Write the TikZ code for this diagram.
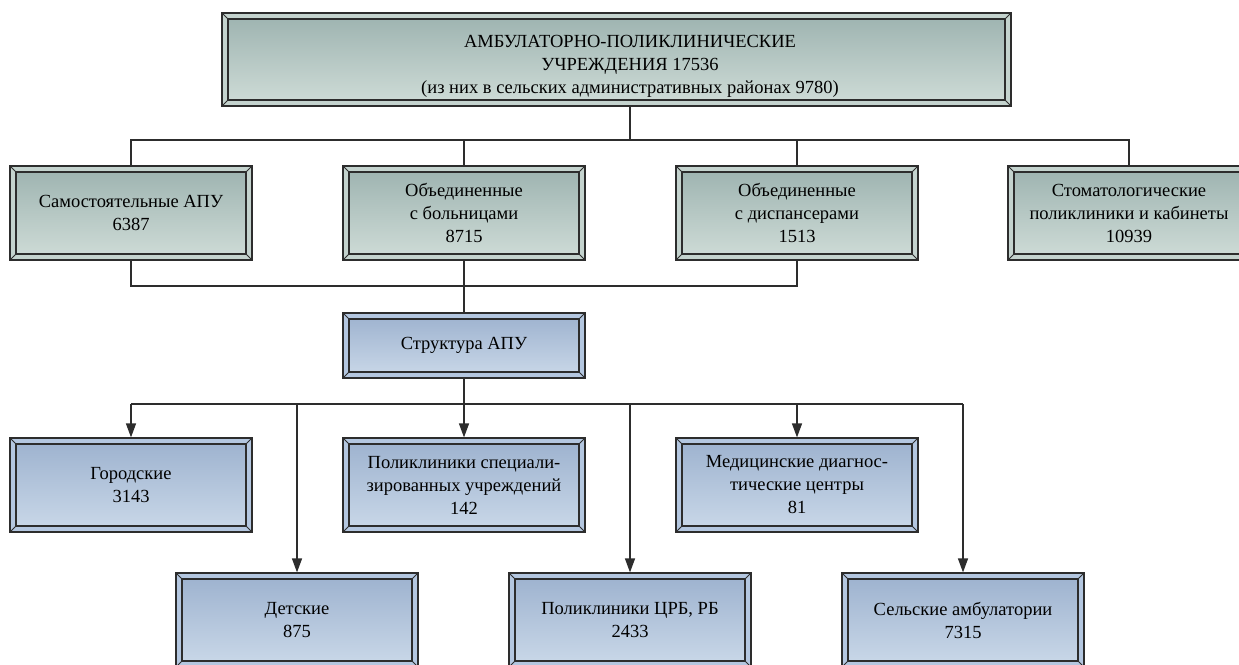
\documentclass[tikz,border=0pt]{standalone}
\usepackage{fontspec}
\setmainfont{Liberation Serif}
\usetikzlibrary{arrows.meta,positioning}
\definecolor{frameline}{RGB}{45,45,45}
\definecolor{greentop}{RGB}{156,178,175}
\definecolor{greenbot}{RGB}{208,221,216}
\definecolor{greenrim}{RGB}{196,211,206}
\definecolor{bluetop}{RGB}{156,177,206}
\definecolor{bluebot}{RGB}{203,217,233}
\definecolor{bluerim}{RGB}{180,199,224}
\tikzset{
  rimbox/.style n args={3}{draw=frameline, line width=1.2pt, fill=#3,
    minimum width=242pt, minimum height=94pt, inner sep=0pt, align=center,
    font=\fontsize{18.5}{23}\selectfont,
    path picture={
      \shade[top color=#1, bottom color=#2, draw=frameline, line width=1.2pt]
        ([shift={(6pt,6pt)}]path picture bounding box.south west)
        rectangle ([shift={(-6pt,-6pt)}]path picture bounding box.north east);
      \draw[frameline, line width=0.8pt]
        (path picture bounding box.south west) -- ++(6pt,6pt)
        (path picture bounding box.north west) -- ++(6pt,-6pt)
        (path picture bounding box.north east) -- ++(-6pt,-6pt)
        (path picture bounding box.south east) -- ++(-6pt,6pt);
    }},
  greenbox/.style={rimbox={greentop}{greenbot}{greenrim}},
  bluebox/.style={rimbox={bluetop}{bluebot}{bluerim}},
  link/.style={draw=frameline, line width=1.3pt},
  arr/.style={link, -{Triangle[length=14pt,width=10pt]}}
}
\begin{document}
\begin{tikzpicture}[x=1pt, y=-1pt]
  \clip (0,0) rectangle (1239,664);
  % top level
  \node[greenbox, minimum width=789pt, minimum height=93pt] (apu) at (616.5,59.5) {};
  \node[align=center, font=\fontsize{18.5}{23}\selectfont] (apuText) at (630,66)
    {АМБУЛАТОРНО-ПОЛИКЛИНИЧЕСКИЕ\\УЧРЕЖДЕНИЯ 17536\\(из них в сельских административных районах 9780)};
  % first row
  \node[greenbox] (self) at (131,213) {Самостоятельные АПУ\\6387};
  \node[greenbox] (hosp) at (464,213) {Объединенные\\с больницами\\8715};
  \node[greenbox] (disp) at (797,213) {Объединенные\\с диспансерами\\1513};
  \node[greenbox] (dent) at (1129,213) {Стоматологические\\поликлиники и кабинеты\\10939};
  % structure
  \node[bluebox, minimum height=65pt] (struct) at (464,345.5) {Структура АПУ};
  \node[bluebox] (city) at (131,485) {Городские\\3143};
  \node[bluebox] (spec) at (464,485) {Поликлиники специали-\\зированных учреждений\\142};
  \node[bluebox] (diag) at (797,485) {Медицинские диагнос-\\тические центры\\81};
  \node[bluebox] (child) at (297,620) {Детские\\875};
  \node[bluebox] (crb) at (630,620) {Поликлиники ЦРБ, РБ\\2433};
  \node[bluebox] (rural) at (963,620) {Сельские амбулатории\\7315};
  % connectors
  \coordinate (busTop) at (630,140);
  \coordinate (busMid) at (464,286);
  \coordinate (busLow) at (464,404);
  \draw[link] (apu.south -| busTop) -- (busTop);
  \draw[link] (self.north) |- (busTop) -| (dent.north);
  \draw[link] (hosp.north) -- (hosp.north |- busTop);
  \draw[link] (disp.north) -- (disp.north |- busTop);
  \draw[link] (self.south) |- (busMid) -| (disp.south);
  \draw[link] (hosp.south) -- (struct.north);
  \draw[link] (struct.south) -- (busLow);
  \draw[link] (city.north |- busLow) -- (rural.north |- busLow);
  \foreach \n in {city,spec,diag,child,crb,rural}
    \draw[arr] (\n.north |- busLow) -- (\n.north);
\end{tikzpicture}
\end{document}
